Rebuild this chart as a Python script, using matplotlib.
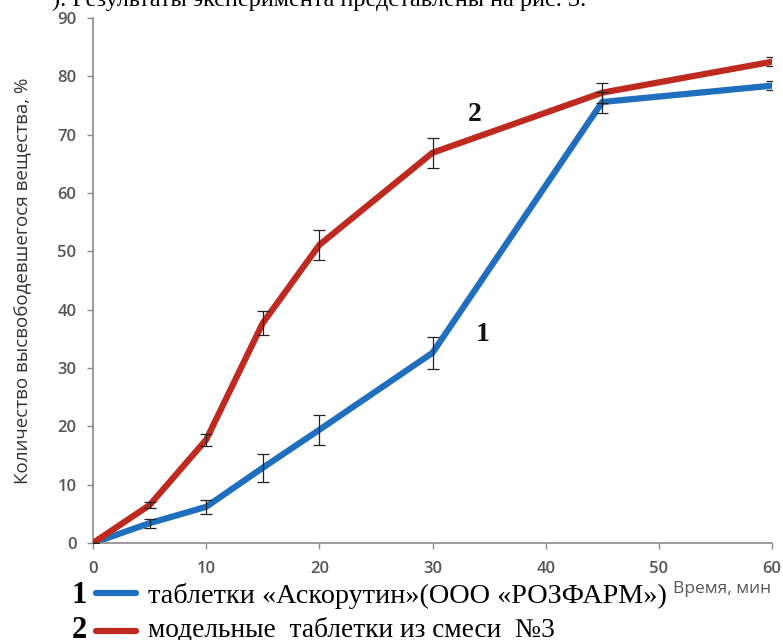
import matplotlib
matplotlib.use("Agg")
import matplotlib.pyplot as plt
from matplotlib.lines import Line2D

# время, мин
time_min = [0, 5, 10, 15, 20, 30, 45, 60]
# 1 - таблетки «Аскорутин»
ascorutin = [0, 3.4, 6.2, 12.9, 19.4, 32.6, 75.6, 78.4]
ascorutin_err = [0, 0.8, 1.2, 2.4, 2.6, 2.7, 1.8, 0.8]
# 2 - модельные таблетки из смеси №3
model_mix3 = [0, 6.5, 17.7, 37.7, 51.1, 66.9, 77.2, 82.5]
model_mix3_err = [0, 0.5, 1.0, 2.1, 2.6, 2.6, 1.7, 0.8]

x_ticks = [0, 10, 20, 30, 40, 50, 60]
y_ticks = [0, 10, 20, 30, 40, 50, 60, 70, 80, 90]

BLUE = "#1f6fbe"
RED = "#bf2a20"
GREY = "#555555"
W, H = 783, 640

fig = plt.figure(figsize=(W / 100, H / 100), dpi=100)
ax = fig.add_axes([93 / W, 1 - 543 / H, 679 / W, 525 / H])

ax.plot(time_min, ascorutin, color=BLUE, lw=4.5, solid_joinstyle="round", zorder=2)
ax.errorbar(time_min, ascorutin, yerr=ascorutin_err, fmt="none", ecolor="#222222",
            elinewidth=0.9, capsize=4, capthick=0.9, zorder=4)
ax.plot(time_min, model_mix3, color=RED, lw=4.5, solid_joinstyle="round", zorder=3)
ax.errorbar(time_min, model_mix3, yerr=model_mix3_err, fmt="none", ecolor="#222222",
            elinewidth=0.9, capsize=4, capthick=0.9, zorder=4)

ax.set_xlim(0, 60)
ax.set_ylim(0, 90)
ax.set_xticks(x_ticks)
ax.set_yticks(y_ticks)
for s in ["top", "right"]:
    ax.spines[s].set_visible(False)
for s in ["left", "bottom"]:
    ax.spines[s].set_color("#8a8a8a")
    ax.spines[s].set_linewidth(1.2)
    ax.spines[s].set_clip_on(False)
ax.tick_params(axis="both", colors="#8a8a8a", labelcolor=GREY, labelsize=12,
               length=4, width=1)
ax.tick_params(axis="x", pad=9)
ax.tick_params(axis="y", pad=8)
for lab in ax.get_xticklabels() + ax.get_yticklabels():
    lab.set_fontfamily("Open Sans")
    lab.set_fontweight("semibold")

ax.set_ylabel("Количество высвободевшегося вещества, %", fontsize=13.5,
              family="Open Sans", color="#333333")
ax.yaxis.set_label_coords(-0.09, 0.5)

# номера кривых
ax.text(33.7, 73.4, "2", fontsize=20, family="Liberation Serif", weight="bold",
        ha="center", va="center", color="#111111")
ax.text(34.4, 35.7, "1", fontsize=20, family="Liberation Serif", weight="bold",
        ha="center", va="center", color="#111111")

fig.text(673 / W, 1 - 593 / H, "Время, мин", fontsize=12.5, family="Open Sans",
         color=GREY, va="baseline")

# подписи под рисунком
serif = "Liberation Serif"
fig.text(72 / W, 1 - 603 / H, "1", fontsize=22, family=serif, weight="bold", va="baseline")
fig.add_artist(Line2D([96 / W, 136 / W], [1 - 593 / H, 1 - 593 / H], color=BLUE,
                      lw=4.5, solid_capstyle="round"))
fig.text(148 / W, 1 - 603 / H, "таблетки «Аскорутин»(ООО «РОЗФАРМ»)", fontsize=20.3,
         family=serif, va="baseline")
fig.text(72 / W, 1 - 638 / H, "2", fontsize=22, family=serif, weight="bold", va="baseline")
fig.add_artist(Line2D([96 / W, 136 / W], [1 - 631 / H, 1 - 631 / H], color=RED,
                      lw=4.5, solid_capstyle="round"))
fig.text(148 / W, 1 - 636 / H, "модельные  таблетки из смеси  №3", fontsize=19.7,
         family=serif, va="baseline")

# обрезанная строка текста сверху
fig.text(52 / W, 1 - 6 / H, "). Результаты эксперимента представлены на рис. 3.",
         fontsize=17.5, family=serif, va="baseline")

fig.savefig("out.png", dpi=100)
